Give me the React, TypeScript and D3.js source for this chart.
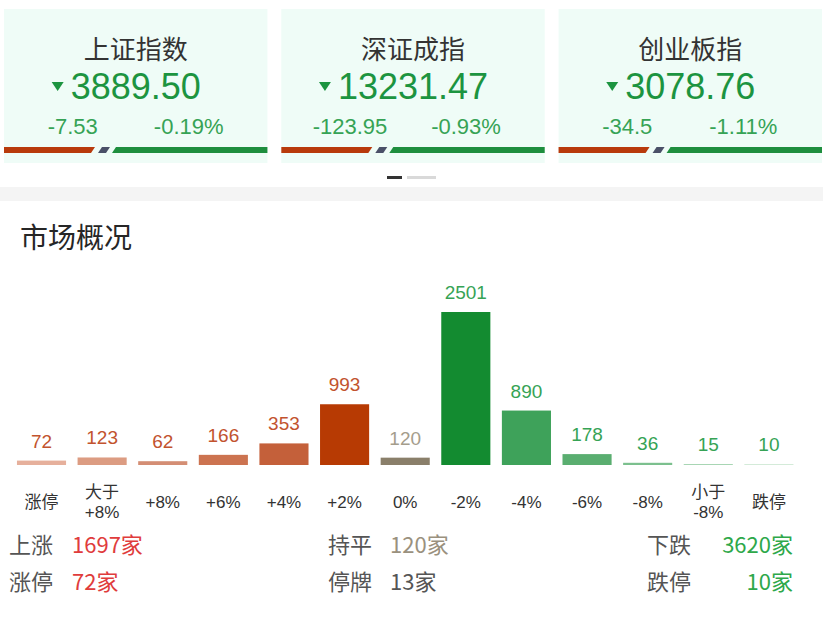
import React from 'react';
import * as d3 from 'd3';

// index cards
const indexNames = ['上证指数', '深证成指', '创业板指'];
const indexValues = ['3889.50', '13231.47', '3078.76'];
const indexChanges = ['-7.53', '-123.95', '-34.5'];
const indexPercents = ['-0.19%', '-0.93%', '-1.11%'];

// market distribution
const categories = ['涨停', '大于\n+8%', '+8%', '+6%', '+4%', '+2%', '0%', '-2%', '-4%', '-6%', '-8%', '小于\n-8%', '跌停'];
const counts = [72, 123, 62, 166, 353, 993, 120, 2501, 890, 178, 36, 15, 10];
const barColors = [
  '#e6b09c', '#dc9c82', '#d48e74', '#cc7350', '#c4603a', '#b73a03',
  '#8a7f6a',
  '#138b30', '#3ea25a', '#5aae70', '#7cc08e', '#a8d6b4', '#d4ebd9',
];

// summary rows
const summaryLabels = [['上涨', '持平', '下跌'], ['涨停', '停牌', '跌停']];
const summaryValues = [['1697家', '120家', '3620家'], ['72家', '13家', '10家']];

const W = 823;
const H = 620;
const CJK = '"Noto Sans CJK SC", sans-serif';
const NUM = '"Liberation Sans", "Noto Sans CJK SC", sans-serif';
const GREEN = '#1c9440';
const RED_TEXT = '#c2532e';
const GREY_TEXT = '#a59d8c';
const GREEN_TEXT = '#36a355';

// rough Arial-metric width of a numeric string
const numWidth = (s: string, size: number) =>
  d3.sum(s.split(''), (c) => (c === '.' ? 0.278 : c === '-' ? 0.333 : 0.556)) * size;

const App: React.FC = () => {
  const cardX = d3.scaleBand<number>().domain(d3.range(3)).range([4, 822]).paddingInner(0.05).paddingOuter(0);

  const x = d3.scaleBand<number>()
    .domain(d3.range(categories.length))
    .range([11.2, 799.2])
    .paddingInner(0.19)
    .paddingOuter(0.095);
  const y = d3.scaleLinear().domain([0, d3.max(counts) as number]).range([465, 312]);

  const textColor = (i: number) => (i < 6 ? RED_TEXT : i === 6 ? GREY_TEXT : GREEN_TEXT);

  return (
    <svg width={W} height={H} style={{ position: 'absolute', left: 0, top: 0, background: '#fff' }} fontFamily={CJK}>
      {/* index cards */}
      {indexNames.map((name, i) => {
        const x0 = cardX(i) as number;
        const w = cardX.bandwidth();
        const cx = x0 + w / 2;
        const tw = numWidth(indexValues[i], 36);
        const gx = cx - tw / 2 - 19;
        return (
          <g key={name}>
            <rect x={x0} y={9} width={w} height={154} fill="#effcf7" />
            <text x={cx} y={59} textAnchor="middle" fontSize={26} fill="#333">{name}</text>
            <path d={`M${gx},${82} L${gx + 12},${82} L${gx + 6},${91} Z`} fill={GREEN} />
            <text x={cx} y={99} textAnchor="middle" fontFamily={NUM} fontSize={36} fill={GREEN}>{indexValues[i]}</text>
            <text x={cx - 63} y={134} textAnchor="middle" fontFamily={NUM} fontSize={22} fill={GREEN_TEXT}>{indexChanges[i]}</text>
            <text x={cx + 53} y={134} textAnchor="middle" fontFamily={NUM} fontSize={22} fill={GREEN_TEXT}>{indexPercents[i]}</text>
            <path d={`M${x0},147 L${x0 + 91},147 L${x0 + 87},153 L${x0},153 Z`} fill="#b83a0c" />
            <path d={`M${x0 + 98},147 L${x0 + 106},147 L${x0 + 102},153 L${x0 + 94},153 Z`} fill="#4a5068" />
            <path d={`M${x0 + 112},147 L${x0 + w},147 L${x0 + w},153 L${x0 + 108},153 Z`} fill="#1e8e3e" />
          </g>
        );
      })}

      {/* page indicator */}
      <rect x={387} y={176} width={15} height={3} fill="#333" />
      <rect x={407} y={176} width={29} height={3} fill="#d9d9d9" />

      {/* separator */}
      <rect x={0} y={187} width={W} height={14} fill="#f4f4f4" />

      <text x={20} y={248} fontSize={28} fill="#262626">市场概况</text>

      {/* bars */}
      {counts.map((v, i) => {
        const top = Math.min(y(v), 464);
        return (
          <g key={categories[i]}>
            <rect x={x(i)} y={top} width={x.bandwidth()} height={465 - top} fill={barColors[i]} />
            <text x={(x(i) as number) + x.bandwidth() / 2} y={top - 13} textAnchor="middle" fontFamily={NUM} fontSize={19} fill={textColor(i)}>
              {v}
            </text>
          </g>
        );
      })}

      {/* category labels */}
      {categories.map((c, i) => {
        const cx = (x(i) as number) + x.bandwidth() / 2;
        const lines = c.split('\n');
        return (
          <text key={c} x={cx} textAnchor="middle" fontFamily={NUM} fontSize={17} fill="#333">
            {lines.map((l, j) => (
              <tspan key={j} x={cx} y={lines.length === 1 ? 508 : 498 + j * 20}>{l}</tspan>
            ))}
          </text>
        );
      })}

      {/* summary */}
      {summaryLabels.map((row, r) => {
        const yy = 553 + r * 37;
        const valueColors = ['#e03c3c', r === 0 ? '#9a917e' : '#555', '#2ea84a'];
        return (
          <g key={r} fontSize={22}>
            <text x={9} y={yy} fill="#555">{row[0]}</text>
            <text x={72} y={yy} fill={valueColors[0]}>{summaryValues[r][0]}</text>
            <text x={328} y={yy} fill="#555">{row[1]}</text>
            <text x={390} y={yy} fill={valueColors[1]}>{summaryValues[r][1]}</text>
            <text x={647} y={yy} fill="#555">{row[2]}</text>
            <text x={793} y={yy} textAnchor="end" fill={valueColors[2]}>{summaryValues[r][2]}</text>
          </g>
        );
      })}
    </svg>
  );
};

export default App;
